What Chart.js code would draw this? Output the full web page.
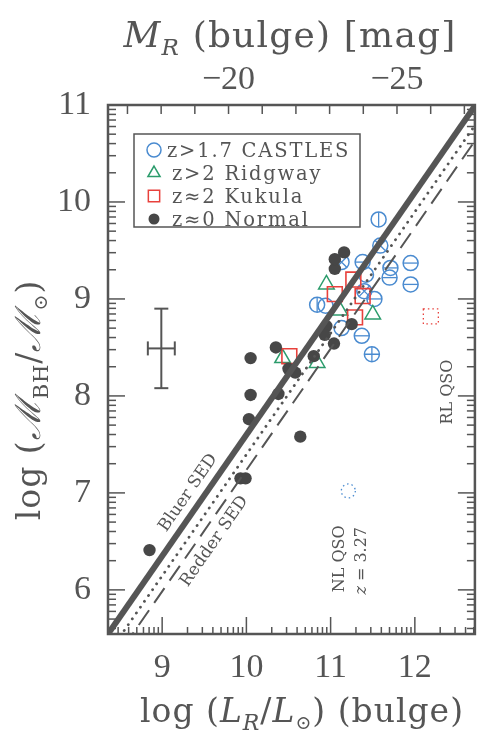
<!DOCTYPE html>
<html>
<head>
<meta charset="utf-8">
<script src="https://cdn.jsdelivr.net/npm/chart.js@4.4.0/dist/chart.umd.min.js"></script>
<style>
html,body{margin:0;padding:0;background:#fff;}
#wrap{width:487px;height:735px;position:relative;}
</style>
</head>
<body>
<div id="wrap"><canvas id="c" width="487" height="735"></canvas></div>
<script>
// ---------------- data ----------------
const xTickLabels = [9, 10, 11, 12];
const yTickLabels = [6, 7, 8, 9, 10, 11];
const magTickLabels = [-20, -25];
const magMinorTicks = [-17, -18, -19, -20, -21, -22, -23, -24, -25, -26, -27];

const normalX = [8.85, 9.93, 9.99, 10.03, 10.05, 10.05, 10.38, 10.35, 10.50, 10.58, 10.64, 10.80, 10.95, 10.93, 11.04, 11.25, 11.05, 11.05, 11.16];
const normalY = [6.41, 7.15, 7.15, 7.76, 8.01, 8.39, 8.02, 8.50, 8.28, 8.24, 7.58, 8.41, 8.72, 8.63, 8.54, 8.74, 9.31, 9.41, 9.48];

const castlesX = [11.57, 11.59, 11.95, 11.95, 11.71, 11.70, 11.38, 11.42, 11.13, 10.84, 10.94, 11.40, 11.52, 11.13, 11.37, 11.49];
const castlesY = [9.82, 9.55, 9.37, 9.15, 9.32, 9.22, 9.38, 9.25, 9.38, 8.94, 8.93, 9.08, 9.00, 8.70, 8.62, 8.43];
const castlesMark = ['v', 'x', 'h', 'h', 'h', 'h', 'h', 'o', 'x', 'v', 'o', 'x', 'h', 'o', 'h', '+'];

const ridgwayX = [10.95, 11.11, 11.50, 10.84, 10.43];
const ridgwayY = [9.15, 8.88, 8.84, 8.34, 8.39];

const kukulaX = [11.27, 11.05, 11.38, 11.29, 10.51];
const kukulaY = [9.20, 9.05, 9.03, 8.81, 8.41];

const nlQsoX = [11.21];
const nlQsoY = [7.02];
const rlQsoX = [12.19];
const rlQsoY = [8.82];

const fitX = [8.357, 12.713];
const bluerY = [5.545, 10.99];
const dottedY = [5.34, 10.79];
const redderY = [5.18, 10.63];

const errX = [8.99];
const errY = [8.49];
const errDX = [0.16];
const errDY = [0.41];

// ---------------- setup ----------------
const X_MIN = 8.357, X_MAX = 12.713, Y_MIN = 5.545, Y_MAX = 11.0;
const MSUN_R = 4.47;
const INK = '#555555', DOT = '#474747', BLUE = '#4a8bd0', GREEN = '#2c9c6c', RED = '#e8413c';
const SERIF = "'DejaVu Serif', serif";
const TICKFONT = "'Liberation Serif', serif";

const zip = (xs, ys) => xs.map((x, i) => ({x: x, y: ys[i]}));

const markStyle = {h: 'line', v: 'line', x: 'crossRot', '+': 'cross'};
const markedIdx = castlesMark.map((m, i) => m !== 'o' ? i : -1).filter(i => i >= 0);

const datasets = [
  {label: 'Bluer SED', type: 'scatter', showLine: true, data: zip(fitX, bluerY), borderColor: INK, borderWidth: 6, pointRadius: 0, order: 0},
  {label: 'mean', type: 'scatter', showLine: true, data: zip(fitX, dottedY), borderColor: INK, borderWidth: 2.8, borderDash: [0.1, 7], borderCapStyle: 'round', pointRadius: 0, order: 1},
  {label: 'Redder SED', type: 'scatter', showLine: true, data: zip(fitX, redderY), borderColor: INK, borderWidth: 2, borderDash: [18, 9], pointRadius: 0, order: 2},
  {label: 'z\u22480 Normal', data: zip(normalX, normalY), pointStyle: 'circle', pointRadius: 6.2, backgroundColor: DOT, borderColor: DOT, borderWidth: 0, order: 3},
  {label: 'z\u22482 Kukula', data: zip(kukulaX, kukulaY), pointStyle: 'rect', pointRadius: 10.5, backgroundColor: 'rgba(0,0,0,0)', borderColor: RED, borderWidth: 1.6, order: 4},
  {label: 'z>2 Ridgway', data: zip(ridgwayX, ridgwayY), pointStyle: 'triangle', pointRadius: 9, backgroundColor: 'rgba(0,0,0,0)', borderColor: GREEN, borderWidth: 1.5, order: 5},
  {label: 'castles marks', data: markedIdx.map(i => ({x: castlesX[i], y: castlesY[i]})),
    pointStyle: markedIdx.map(i => markStyle[castlesMark[i]]),
    rotation: markedIdx.map(i => castlesMark[i] === 'v' ? 90 : 0),
    pointRadius: 7.3, backgroundColor: 'rgba(0,0,0,0)', borderColor: BLUE, borderWidth: 1.3, order: 6},
  {label: 'z>1.7 CASTLES', data: zip(castlesX, castlesY), pointStyle: 'circle', pointRadius: 7.5, backgroundColor: 'rgba(0,0,0,0)', borderColor: BLUE, borderWidth: 1.5, order: 7}
];

function runsDraw(ctx, runs, x, y, align, ls) {
  const fontOf = r => (r.it ? 'italic ' : '') + (r.size) + 'px ' + (r.fam || SERIF);
  let total = 0;
  const ws = runs.map(r => { ctx.font = fontOf(r); ctx.letterSpacing = (r.ls != null ? r.ls : ls) + 'px'; const w = ctx.measureText(r.t).width; total += w; return w; });
  let cx = align === 'center' ? x - total / 2 : x;
  ctx.textAlign = 'left';
  ctx.textBaseline = 'alphabetic';
  runs.forEach((r, i) => {
    ctx.font = fontOf(r); ctx.letterSpacing = (r.ls != null ? r.ls : ls) + 'px';
    ctx.fillText(r.t, cx, y + (r.dy || 0));
    cx += ws[i];
  });
  ctx.letterSpacing = '0px';
}

const decor = {
  id: 'decor',
  afterDatasetsDraw(chart) {
    const {ctx, chartArea: a, scales} = chart;
    const sx = scales.x, sy = scales.y, sm = scales.x2;
    ctx.save();
    ctx.strokeStyle = INK; ctx.fillStyle = INK; ctx.lineCap = 'butt';
    const line = (x1, y1, x2, y2) => { ctx.beginPath(); ctx.moveTo(x1, y1); ctx.lineTo(x2, y2); ctx.stroke(); };

    // error bar
    ctx.lineWidth = 2;
    errX.forEach((ex, i) => {
      const cx = sx.getPixelForValue(ex), cy = sy.getPixelForValue(errY[i]);
      const x1 = sx.getPixelForValue(ex - errDX[i]), x2 = sx.getPixelForValue(ex + errDX[i]);
      const y1 = sy.getPixelForValue(errY[i] + errDY[i]), y2 = sy.getPixelForValue(errY[i] - errDY[i]);
      line(cx, y1, cx, y2); line(x1, cy, x2, cy);
      line(cx - 7, y1, cx + 7, y1); line(cx - 7, y2, cx + 7, y2);
      line(x1, cy - 7, x1, cy + 7); line(x2, cy - 7, x2, cy + 7);
    });

    // dotted special QSO markers
    ctx.lineWidth = 1.3;
    ctx.setLineDash([1.5, 3]);
    ctx.strokeStyle = BLUE;
    nlQsoX.forEach((qx, i) => {
      ctx.beginPath(); ctx.arc(sx.getPixelForValue(qx), sy.getPixelForValue(nlQsoY[i]), 7, 0, Math.PI * 2); ctx.stroke();
    });
    ctx.strokeStyle = RED;
    rlQsoX.forEach((qx, i) => {
      const px = sx.getPixelForValue(qx), py = sy.getPixelForValue(rlQsoY[i]);
      ctx.strokeRect(px - 7.5, py - 7.5, 15, 15);
    });
    ctx.setLineDash([]);
    ctx.strokeStyle = INK;

    // tick marks
    ctx.lineWidth = 1.5;
    for (let d = 5; d <= 11; d++) for (let k = 1; k <= 9; k++) {
      const v = d + Math.log10(k);
      if (v < Y_MIN || v > Y_MAX + 1e-9) continue;
      const p = sy.getPixelForValue(v), L = k === 1 ? 17 : 8;
      line(a.left, p, a.left + L, p); line(a.right, p, a.right - L, p);
    }
    for (let d = 8; d <= 12; d++) for (let k = 1; k <= 9; k++) {
      const v = d + Math.log10(k);
      if (v < X_MIN || v > X_MAX) continue;
      const p = sx.getPixelForValue(v), L = k === 1 ? 17 : 7;
      line(p, a.bottom, p, a.bottom - L);
    }
    magMinorTicks.forEach(m => {
      const p = sm.getPixelForValue(m);
      line(p, a.top, p, a.top + 9);
    });

    // frame
    ctx.lineWidth = 2.5;
    ctx.strokeRect(a.left, a.top, a.right - a.left, a.bottom - a.top);

    // line annotations
    const p0 = {x: sx.getPixelForValue(fitX[0]), y: sy.getPixelForValue(bluerY[0])};
    const p1 = {x: sx.getPixelForValue(fitX[1]), y: sy.getPixelForValue(bluerY[1])};
    const ang = Math.atan2(p1.y - p0.y, p1.x - p0.x);
    const rotText = (t, vx, vy, angle, size, it) => {
      ctx.save();
      ctx.translate(sx.getPixelForValue(vx), sy.getPixelForValue(vy));
      ctx.rotate(angle);
      ctx.font = (it ? 'italic ' : '') + size + 'px ' + SERIF;
      ctx.textAlign = 'center'; ctx.textBaseline = 'middle';
      ctx.fillText(t, 0, 0);
      ctx.restore();
    };
    ctx.fillStyle = INK;
    rotText('Bluer SED', 9.31, 7.0, ang, 17);
    rotText('Redder SED', 9.62, 6.50, ang, 17);
    rotText('NL QSO', 11.11, 6.32, -Math.PI / 2, 16);
    ctx.save();
    ctx.translate(sx.getPixelForValue(11.36), sy.getPixelForValue(6.30));
    ctx.rotate(-Math.PI / 2);
    runsDraw(ctx, [{t: 'z', it: true, size: 16}, {t: ' = 3.27', size: 16}], 0, 5, 'center', 0);
    ctx.restore();
    rotText('RL QSO', 12.39, 8.04, -Math.PI / 2, 16);

    // legend
    const bx = a.left + 26, by = a.top + 29, bw = 226, bh = 93;
    ctx.fillStyle = '#fff';
    ctx.fillRect(bx, by, bw, bh);
    ctx.lineWidth = 1.5; ctx.strokeStyle = INK;
    ctx.strokeRect(bx, by, bw, bh);
    const rows = [
      {ds: datasets[7], dy: 16, tx: 33, r: 7},
      {ds: datasets[5], dy: 39, tx: 38, r: 7},
      {ds: datasets[4], dy: 62, tx: 38, r: 8},
      {ds: datasets[3], dy: 85, tx: 38, r: 5.5}
    ];
    rows.forEach(row => {
      const ds = row.ds;
      ctx.strokeStyle = ds.borderColor; ctx.fillStyle = ds.backgroundColor;
      Chart.helpers.drawPoint(ctx, {pointStyle: ds.pointStyle, radius: row.r, rotation: 0, borderWidth: ds.borderWidth || 0}, bx + 20, by + row.dy);
      ctx.fillStyle = INK;
      runsDraw(ctx, [{t: ds.label, size: 19.5}], bx + row.tx, by + row.dy + 7, 'left', 1.8);
    });

    ctx.restore();
  },
  afterDraw(chart) {
    const {ctx} = chart;
    ctx.save();
    ctx.fillStyle = INK;
    // top title
    runsDraw(ctx, [
      {t: 'M', it: true, size: 36},
      {t: 'R', it: true, size: 23, dy: 8},
      {t: ' (bulge) [mag]', size: 36}
    ], 290, 47, 'center', 1.2);
    // bottom title
    runsDraw(ctx, [
      {t: 'log (', size: 33},
      {t: 'L', it: true, size: 33},
      {t: 'R', it: true, size: 22, dy: 8},
      {t: '/', size: 33},
      {t: 'L', it: true, size: 33},
      {t: '\u2299', size: 19, dy: 7},
      {t: ') (bulge)', size: 33}
    ], 302, 722, 'center', 1);
    // y title
    ctx.translate(40, 400);
    ctx.rotate(-Math.PI / 2);
    runsDraw(ctx, [
      {t: 'log (', size: 33},
      {t: '\u2133', it: true, size: 35},
      {t: 'BH', size: 21, dy: 8},
      {t: '/', size: 33},
      {t: '\u2133', it: true, size: 35},
      {t: '\u2299', size: 19, dy: 7},
      {t: ')', size: 33}
    ], 0, 0, 'center', 1);
    ctx.restore();
  }
};

const tickFont = {family: TICKFONT, size: 34};

new Chart(document.getElementById('c'), {
  type: 'scatter',
  data: {datasets: datasets},
  options: {
    responsive: false,
    animation: false,
    devicePixelRatio: 1,
    layout: {padding: 0},
    plugins: {legend: {display: false}, tooltip: {enabled: false}},
    scales: {
      x: {
        type: 'linear', position: 'bottom', min: X_MIN, max: X_MAX,
        grid: {display: false, drawTicks: false}, border: {display: false},
        afterBuildTicks: s => { s.ticks = xTickLabels.map(v => ({value: v})); },
        afterFit: s => { s.height = 101; },
        ticks: {font: tickFont, color: INK, padding: 14, autoSkip: false, maxRotation: 0, callback: v => String(v)}
      },
      x2: {
        type: 'linear', position: 'top', reverse: true,
        min: MSUN_R - 2.5 * X_MAX, max: MSUN_R - 2.5 * X_MIN,
        grid: {display: false, drawTicks: false}, border: {display: false},
        afterBuildTicks: s => { s.ticks = magTickLabels.map(v => ({value: v})); },
        afterFit: s => { s.height = 105; },
        ticks: {font: tickFont, color: INK, padding: 5, autoSkip: false, maxRotation: 0, callback: v => '\u2212' + String(Math.abs(v))}
      },
      y: {
        type: 'linear', position: 'left', min: Y_MIN, max: Y_MAX,
        grid: {display: false, drawTicks: false}, border: {display: false},
        afterBuildTicks: s => { s.ticks = yTickLabels.map(v => ({value: v})); },
        afterFit: s => { s.width = 108; },
        ticks: {font: tickFont, color: INK, padding: 17, autoSkip: false, callback: v => String(v)}
      },
      y2: {
        type: 'linear', position: 'right', min: Y_MIN, max: Y_MAX,
        grid: {display: false, drawTicks: false}, border: {display: false},
        afterFit: s => { s.width = 4; },
        ticks: {display: false}
      }
    }
  },
  plugins: [decor]
});
</script>
</body>
</html>
